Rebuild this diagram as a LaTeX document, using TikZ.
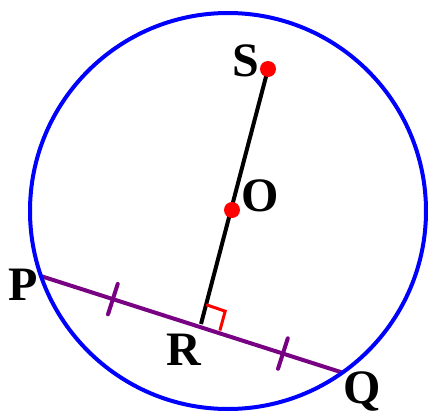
\documentclass[tikz,border=0pt]{standalone}
\usepackage{fontspec}
\setmainfont{Liberation Serif}
\usetikzlibrary{calc}
\definecolor{cblue}{RGB}{0,0,255}
\definecolor{cpurple}{RGB}{120,0,130}
\definecolor{cred}{RGB}{255,0,0}
\tikzset{
  lbl/.style={anchor=base,inner sep=0pt,font=\fontsize{24}{28}\selectfont\bfseries},
  dotr/.style={circle,fill=cred,inner sep=0pt,minimum size=8pt},
  chord/.style={draw=cpurple,line width=2pt},
  tick/.style={draw=cpurple,line width=2pt,line cap=round},
  seg/.style={draw=black,line width=2pt},
  rim/.style={draw=cblue,line width=2pt},
  ra/.style={draw=cred,line width=1.5pt}
}
\begin{document}
\begin{tikzpicture}[x=0.5pt,y=-0.5pt]
\useasboundingbox (0,0) rectangle (429,418);
\coordinate (C) at (228,211);
\coordinate (S) at (268,69);
\coordinate (O) at (232,210);
\coordinate (R) at (201,324);
\coordinate (P) at (40.7,276);
\coordinate (Q) at (342.7,372.7);
% chord
\draw[chord] (P) -- (Q);
\coordinate (T1) at ($(P)!0.239!(Q)$);
\coordinate (T2) at ($(P)!0.802!(Q)$);
\draw[tick] ($(T1)!8pt!90:(Q)$) -- ($(T1)!8pt!-90:(Q)$);
\draw[tick] ($(T2)!8pt!90:(Q)$) -- ($(T2)!8pt!-90:(Q)$);
% segment S-R
\draw[seg] (S) -- (R);
% right angle
\coordinate (A1) at ($(R)!10pt!(Q)$);
\coordinate (A3) at ($(R)!10pt!(O)$);
\coordinate (A2) at ($(A1)+(A3)-(R)$);
\draw[ra] (A1) -- (A2) -- (A3);
% circle
\draw[rim] (C) circle [radius=198];
% dots
\node[dotr] (dS) at (S) {};
\node[dotr] (dO) at (O) {};
% labels
\node[lbl] (lS) at (246,76) {S};
\node[lbl] (lO) at (260,211) {O};
\node[lbl] (lR) at (184,365) {R};
\node[lbl] (lP) at (23,300) {P};
\node[lbl] (lQ) at (362,403) {Q};
\end{tikzpicture}
\end{document}
